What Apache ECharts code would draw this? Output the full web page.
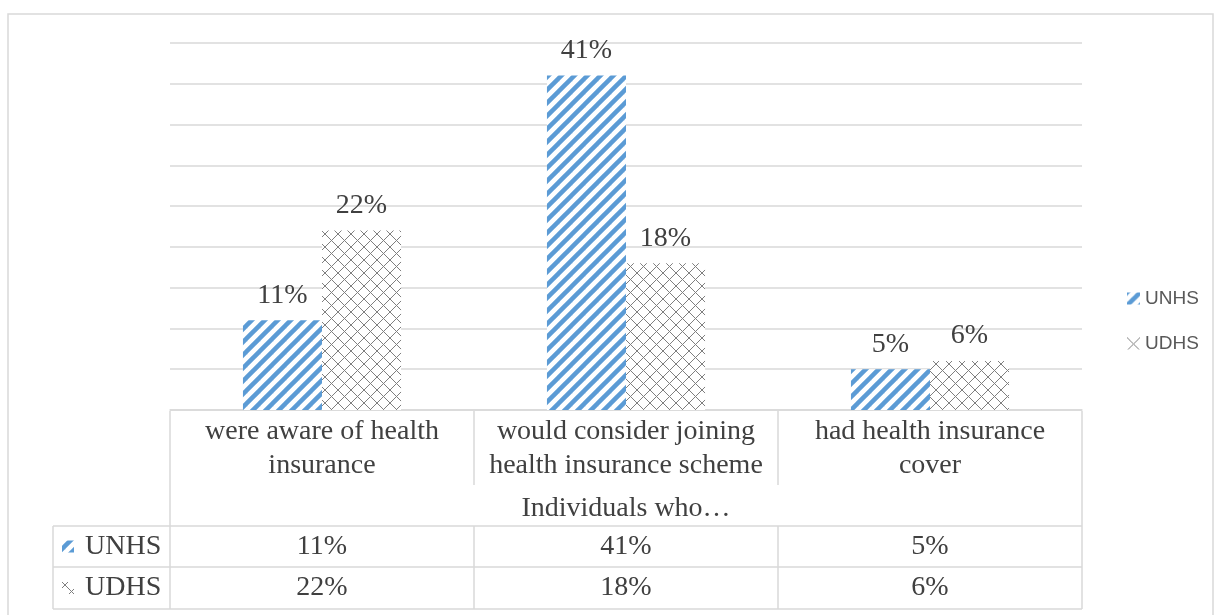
<!DOCTYPE html>
<html>
<head>
<meta charset="utf-8">
<script src="https://cdn.jsdelivr.net/npm/echarts@6/dist/echarts.min.js"></script>
<style>html,body{margin:0;padding:0;background:#fff}#c{width:1215px;height:615px}</style>
</head>
<body>
<div id="c"></div>
<script>
const categories = ['were aware of health\ninsurance', 'would consider joining\nhealth insurance scheme', 'had health insurance\ncover'];
const seriesNames = ['UNHS', 'UDHS'];
const unhs = [11, 41, 5];
const udhs = [22, 18, 6];
const axisName = 'Individuals who\u2026';
const yMin = 0, yMax = 45, yInterval = 5;

const SERIF = '"Liberation Serif", "Times New Roman", serif';
const TXT = '#404040';
const LINE = '#d9d9d9';
const FS = 28;

function stripePattern() {
  const s = 13, c = document.createElement('canvas');
  c.width = s; c.height = s;
  const g = c.getContext('2d');
  g.fillStyle = '#fff'; g.fillRect(0, 0, s, s);
  g.strokeStyle = '#5B9BD5'; g.lineWidth = 4.5;
  [[0, s, s, 0], [-s, s, s, -s], [0, 2 * s, 2 * s, 0]].forEach(function (l) {
    g.beginPath(); g.moveTo(l[0], l[1]); g.lineTo(l[2], l[3]); g.stroke();
  });
  return c;
}
function crossPattern() {
  const s = 13, c = document.createElement('canvas');
  c.width = s; c.height = s;
  const g = c.getContext('2d');
  g.fillStyle = '#fff'; g.fillRect(0, 0, s, s);
  g.strokeStyle = '#7f7f7f'; g.lineWidth = 1;
  g.beginPath(); g.moveTo(0, 0); g.lineTo(s, s); g.stroke();
  g.beginPath(); g.moveTo(0, s); g.lineTo(s, 0); g.stroke();
  return c;
}
const pats = [{ image: stripePattern(), repeat: 'repeat' }, { image: crossPattern(), repeat: 'repeat' }];
const seriesData = [unhs, udhs];

const gl = 170, gr = 1082, gt = 43, gb = 410;
const colW = (gr - gl) / categories.length;
const rowHeadL = 53;
const rows = [411, 485, 526, 567, 609];

const graphic = [];
function ln(x1, y1, x2, y2) {
  graphic.push({ type: 'line', silent: true, shape: { x1: x1, y1: y1, x2: x2, y2: y2 }, style: { stroke: LINE, lineWidth: 1.5 } });
}
function tx(t, x, y, align) {
  graphic.push({ type: 'text', silent: true, style: { text: t, x: x, y: y, font: FS + 'px ' + SERIF, fill: TXT, align: align || 'center', textAlign: align || 'center', verticalAlign: 'middle', textVerticalAlign: 'middle' } });
}
// outer border
graphic.push({ type: 'rect', silent: true, shape: { x: 8, y: 14, width: 1205, height: 700 }, style: { fill: 'none', stroke: LINE, lineWidth: 1.5 } });
// category row verticals
for (let i = 0; i <= categories.length; i++) ln(gl + i * colW, rows[0], gl + i * colW, rows[1]);
// axis-name row outer verticals
ln(gl, rows[1], gl, rows[2]); ln(gr, rows[1], gr, rows[2]);
// value rows
for (let r = 2; r < rows.length; r++) ln(rowHeadL, rows[r], gr, rows[r]);
ln(rowHeadL, rows[2], rowHeadL, rows[4]);
for (let i = 0; i <= categories.length; i++) ln(gl + i * colW, rows[2], gl + i * colW, rows[4]);
// values + row headers
for (let s = 0; s < seriesNames.length; s++) {
  const yc = (rows[2 + s] + rows[3 + s]) / 2;
  graphic.push({ type: 'rect', silent: true, shape: { x: 62, y: yc - 6, width: 12, height: 12 }, style: { fill: pats[s], stroke: null } });
  tx(seriesNames[s], 85, yc, 'left');
  for (let i = 0; i < categories.length; i++) tx(seriesData[s][i] + '%', gl + (i + 0.5) * colW, yc);
}

const chart = echarts.init(document.getElementById('c'), null, { renderer: 'canvas' });
chart.setOption({
  animation: false,
  backgroundColor: '#fff',
  grid: { left: gl, right: 1215 - gr, top: gt, bottom: 615 - gb, containLabel: false },
  legend: {
    orient: 'vertical', left: 1122, top: 284, itemWidth: 13, itemHeight: 12, itemGap: 26, icon: 'rect',
    textStyle: { fontFamily: '"Liberation Sans", Arial, sans-serif', fontSize: 19, color: '#595959' },
    data: seriesNames
  },
  xAxis: {
    type: 'category', data: categories,
    name: axisName, nameLocation: 'middle', nameGap: 85,
    nameTextStyle: { fontFamily: SERIF, fontSize: FS, color: TXT },
    axisLine: { show: true, lineStyle: { color: LINE, width: 1.5 } },
    axisTick: { show: false },
    axisLabel: { margin: 5, fontFamily: SERIF, fontSize: FS, lineHeight: 34, color: TXT, interval: 0, verticalAlign: 'top' }
  },
  yAxis: {
    type: 'value', min: yMin, max: yMax, interval: yInterval,
    axisLabel: { show: false }, axisLine: { show: false }, axisTick: { show: false },
    splitLine: { show: true, lineStyle: { color: LINE, width: 1.5 } }
  },
  graphic: graphic,
  series: seriesNames.map(function (n, s) {
    return {
      name: n, type: 'bar', data: seriesData[s], barGap: '0%', barCategoryGap: '48%',
      itemStyle: { color: pats[s] },
      label: { show: true, position: 'top', distance: 11, formatter: '{c}%', fontFamily: SERIF, fontSize: FS, color: TXT }
    };
  })
});
</script>
</body>
</html>
